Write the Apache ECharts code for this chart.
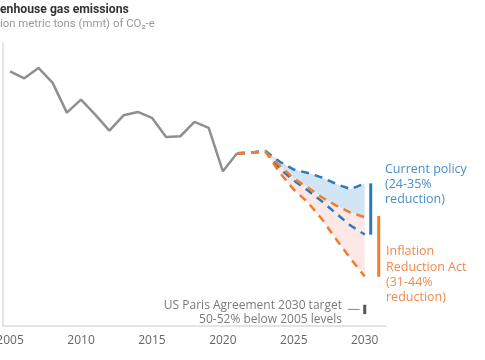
<!DOCTYPE html>
<html><head><meta charset="utf-8">
<script src="https://cdn.jsdelivr.net/npm/echarts@6/dist/echarts.min.js"></script>
<style>html,body{margin:0;padding:0;background:#fff}#c{width:485px;height:360px}</style>
</head><body><div id="c"></div>
<script>
// ---- data ----
const histYears = [2005,2006,2007,2008,2009,2010,2011,2012,2013,2014,2015,2016,2017,2018,2019,2020,2021];
const histValues = [6600,6501,6648,6436,6016,6200,5988,5762,5978,6026,5942,5673,5682,5885,5800,5187,5441];
const projYears = [2021,2022,2023,2024,2025,2026,2027,2028,2029,2030];
const cpHigh  = [5441,5451,5472,5324,5211,5162,5098,5006,4935,5013];
const cpLow   = [5441,5451,5472,5225,5056,4914,4759,4589,4420,4293];
const iraHigh = [5441,5451,5465,5268,5084,4957,4815,4702,4603,4537];
const iraLow  = [5441,5451,5465,5169,4928,4745,4505,4222,3953,3699];
const rangeYear = 2030;
const cpRange = [5016, 4290];
const iraRange = [4554, 3696];
const parisRange = [3300, 3168];
const xTickLabels = [2005, 2010, 2015, 2020, 2025, 2030];

const BLUE = '#2a7bbb', ORANGE = '#f07c2e', GRAY = '#8f8f8f';
const FONT = '"Open Sans", Lato, sans-serif';
const TFONT = 'Roboto, "Open Sans", sans-serif';

// Title/subtitle are cropped at the left edge in the reference: fit the visible part.
const ctx = document.createElement('canvas').getContext('2d');
function fitCropped(full, hiddenPrefix, baseFont, baseSize, visibleWidth) {
  ctx.font = baseFont + ' ' + baseSize + 'px ' + TFONT;
  const w = ctx.measureText(full.slice(hiddenPrefix.length)).width;
  const size = baseSize * visibleWidth / w;
  ctx.font = baseFont + ' ' + size + 'px ' + TFONT;
  return { size: size, x: -ctx.measureText(hiddenPrefix).width };
}
const TITLE = 'Greenhouse gas emissions';
const SUB = 'Million metric tons (mmt) of CO₂-e';
const tFit = fitCropped(TITLE, 'Gre', 'bold', 13, 129);
const sFit = fitCropped(SUB, 'Mill', 'normal', 12, 155);

function pairs(xs, ys) { return xs.map((x, i) => [x, ys[i]]); }

function band(upper, lower, color) {
  return {
    type: 'custom', silent: true, z: 1, data: [[rangeYear, upper[0]]],
    renderItem: (params, api) => {
      const pts = projYears.map((y, i) => api.coord([y, upper[i]]));
      for (let i = projYears.length - 1; i >= 0; i--) pts.push(api.coord([projYears[i], lower[i]]));
      return { type: 'polygon', shape: { points: pts }, style: { fill: color } };
    }
  };
}
function rangeBar(range, dx, color) {
  return {
    type: 'custom', silent: true, z: 5, data: [[rangeYear, range[0]]],
    renderItem: (params, api) => {
      const a = api.coord([rangeYear, range[0]]), b = api.coord([rangeYear, range[1]]);
      return { type: 'rect', shape: { x: a[0] + dx - 1.5, y: a[1], width: 3, height: b[1] - a[1] }, style: { fill: color } };
    }
  };
}
function dashed(ys, color) {
  return {
    type: 'line', data: pairs(projYears, ys), symbol: 'none', z: 3,
    lineStyle: { color: color, width: 2.5, type: [8, 6] }
  };
}

const chart = echarts.init(document.getElementById('c'), null, { renderer: 'canvas' });
chart.setOption({
  animation: false,
  grid: { left: 3, right: 99, top: 43, bottom: 34, containLabel: false, outerBoundsMode: 'none' },
  xAxis: {
    type: 'value', min: 2004.5, max: 2031.5,
    axisLine: { show: true, lineStyle: { color: '#dcdcdc', width: 1.5 } },
    axisTick: { show: false }, splitLine: { show: false },
    axisLabel: {
      color: '#666', fontSize: 12, fontFamily: FONT, margin: 9,
      customValues: xTickLabels,
      formatter: v => String(v)
    }
  },
  yAxis: {
    type: 'value', min: 3000, max: 7000,
    axisLine: { show: true, onZero: false, lineStyle: { color: '#dcdcdc', width: 1.5 } },
    axisTick: { show: false }, splitLine: { show: false }, axisLabel: { show: false }
  },
  series: [
    band(cpHigh, iraHigh, '#d2e5f5'),
    band(iraHigh, iraLow, '#fde7e7'),
    { type: 'line', data: pairs(histYears, histValues), symbol: 'none', z: 4,
      lineStyle: { color: GRAY, width: 2.5 } },
    dashed(cpHigh, BLUE),
    dashed(cpLow, BLUE),
    dashed(iraHigh, ORANGE),
    dashed(iraLow, ORANGE),
    rangeBar(cpRange, 6, BLUE),
    rangeBar(iraRange, 14, ORANGE),
    rangeBar(parisRange, 0, '#555'),
    {
      type: 'custom', silent: true, z: 5, data: [[rangeYear, parisRange[0]]],
      renderItem: (params, api) => {
        const a = api.coord([rangeYear, (parisRange[0] + parisRange[1]) / 2]);
        return { type: 'line', shape: { x1: a[0] - 17, y1: a[1], x2: a[0] - 5, y2: a[1] }, style: { stroke: '#999', lineWidth: 1.2 } };
      }
    }
  ],
  graphic: [
    { type: 'text', x: tFit.x, y: 10, style: { text: TITLE, font: 'bold ' + tFit.size + 'px ' + TFONT, fill: '#333', verticalAlign: 'middle' } },
    { type: 'text', x: sFit.x, y: 24, style: { text: SUB, font: sFit.size + 'px ' + TFONT, fill: '#999', verticalAlign: 'middle' } },
    { type: 'text', x: 385, y: 162, style: { text: 'Current policy\n(24-35%\nreduction)', font: '12.5px ' + FONT, fill: '#4a8fc7', lineHeight: 15 } },
    { type: 'text', x: 386, y: 244, style: { text: 'Inflation\nReduction Act\n(31-44%\nreduction)', font: '12.5px ' + FONT, fill: '#f08a4b', lineHeight: 15.3 } },
    { type: 'text', x: 342, y: 299, style: { text: 'US Paris Agreement 2030 target\n50-52% below 2005 levels', font: '12px ' + FONT, fill: '#7a7a7a', lineHeight: 14, align: 'right' } }
  ]
});
</script></body></html>
